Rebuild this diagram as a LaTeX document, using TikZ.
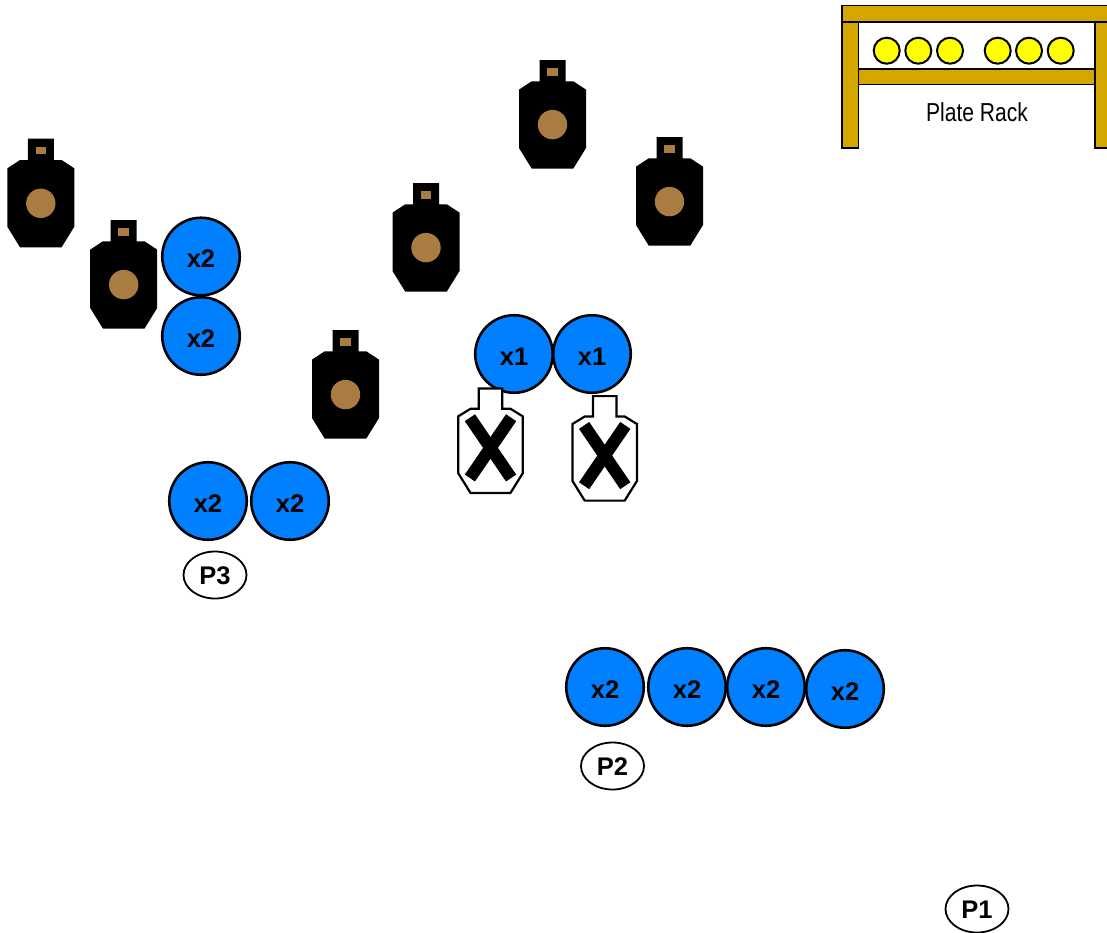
\documentclass[tikz,border=0pt]{standalone}
\usepackage{fontspec}
\setmainfont{Liberation Sans}
\usetikzlibrary{shapes.geometric}
\definecolor{tblue}{HTML}{0080FF}
\definecolor{tbrown}{HTML}{A97C42}
\definecolor{rackgold}{HTML}{D4A600}
\definecolor{plateyellow}{HTML}{FFFF00}
\tikzset{
  countdisc/.style={circle,draw=black,fill=tblue,line width=2.6pt,minimum size=77.5pt,inner sep=0pt,text height=22pt,text depth=0pt,font=\fontsize{25.5}{25.5}\selectfont\bfseries},
  posoval/.style={ellipse,draw=black,fill=white,line width=1.8pt,minimum width=63pt,minimum height=47pt,inner sep=0pt,text height=19pt,text depth=0pt,font=\fontsize{25.5}{25.5}\selectfont\bfseries},
  plate/.style={circle,draw=black,fill=plateyellow,line width=2pt,minimum size=26pt,inner sep=0pt},
  rackbar/.style={draw=black,fill=rackgold,line width=1.6pt},
  pics/shoot/.style={code={
    \fill[black] (-13,0) -- (13,0) -- (13,21.3) -- (20.8,21.3) -- (33.5,29.6) -- (33.5,88) -- (20.8,108.6) -- (-20.8,108.6) -- (-33.5,88) -- (-33.5,29.6) -- (-20.8,21.3) -- (-13,21.3) -- cycle;
    \fill[tbrown] (-5.3,8) rectangle (5.3,15.5);
    \fill[tbrown] (0,64.6) circle (14.7);
  }},
  pics/noshoot/.style={code={
    \draw[fill=white,draw=black,line width=2.2pt,line join=miter] (-11.7,1.1) -- (11.7,1.1) -- (11.7,21.5) -- (20,21.5) -- (32.2,29) -- (32.2,86) -- (20,105.6) -- (-20,105.6) -- (-32.2,86) -- (-32.2,29) -- (-20,21.5) -- (-11.7,21.5) -- cycle;
    \draw[black,line width=12.3pt] (-20.6,30.4) -- (20.6,90.7);
    \draw[black,line width=12.3pt] (20.6,30.4) -- (-20.6,90.7);
  }}
}
\begin{document}
\begin{tikzpicture}[x=1pt,y=-1pt]
\useasboundingbox (0,0) rectangle (1107,932);
\clip (0,0) rectangle (1107,932);
% plate rack
\draw[rackbar] (842,22) rectangle (858.5,148);
\draw[rackbar] (1095,22) rectangle (1112,148);
\draw[rackbar] (842,5.5) rectangle (1112,22);
\draw[rackbar] (858.5,69) rectangle (1095,84.5);
\node[plate] (pl1) at (886.7,50.7) {};
\node[plate] (pl2) at (918.3,50.7) {};
\node[plate] (pl3) at (950,50.7) {};
\node[plate] (pl4) at (997.7,50.7) {};
\node[plate] (pl5) at (1029,50.7) {};
\node[plate] (pl6) at (1060.7,50.7) {};
\node[xscale=0.81,inner sep=0pt,font=\fontsize{26}{26}\selectfont] (racklabel) at (977,112) {Plate Rack};
% shoot targets
\pic at (40.8,138.7) {shoot};
\pic at (123.7,220) {shoot};
\pic at (552.5,60) {shoot};
\pic at (669.5,137) {shoot};
\pic at (426,183) {shoot};
\pic at (345.5,330) {shoot};
% count circles
\node[countdisc] (a1) at (201,256.5) {x2};
\node[countdisc] (a2) at (201,336) {x2};
\node[countdisc] (b1) at (514,354) {x1};
\node[countdisc] (b2) at (592,354) {x1};
\node[countdisc] (c1) at (208,501) {x2};
\node[countdisc] (c2) at (290,501) {x2};
\node[countdisc] (d1) at (605,687) {x2};
\node[countdisc] (d2) at (687,687) {x2};
\node[countdisc] (d3) at (766,687) {x2};
\node[countdisc] (d4) at (845,689) {x2};
% no-shoots
\pic at (490.5,387.3) {noshoot};
\pic at (604.7,395) {noshoot};
% positions
\node[posoval] (p3) at (215,575) {P3};
\node[posoval] (p2) at (612.5,766) {P2};
\node[posoval] (p1) at (977,909) {P1};
\end{tikzpicture}
\end{document}
